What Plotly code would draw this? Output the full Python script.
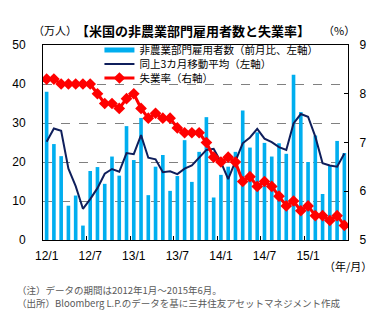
import plotly.graph_objects as go

# Data: Jan 2012 - Jun 2015 (monthly)
payrolls = [38.0, 24.6, 21.5, 8.8, 11.4, 3.7, 17.7, 18.7, 14.4, 21.4, 16.5, 29.2,
            20.5, 31.3, 11.5, 18.8, 21.8, 12.6, 16.4, 25.6, 14.9, 22.6, 31.5, 10.9,
            16.7, 18.8, 22.6, 33.2, 23.7, 27.6, 24.9, 21.4, 24.8, 22.1, 42.4, 32.8,
            20.0, 26.8, 11.8, 19.0, 25.4, 22.3]
moving_avg = [25.2, 28.6, 28.0, 18.3, 13.8, 8.0, 10.5, 13.3, 17.0, 18.2, 17.5, 22.3,
              22.0, 26.9, 21.1, 20.7, 17.4, 17.6, 16.9, 18.3, 19.1, 21.1, 23.1, 23.4,
              20.0, 15.6, 20.1, 24.8, 26.3, 28.5, 26.0, 25.1, 23.8, 23.1, 29.9, 32.3,
              31.6, 26.5, 19.7, 19.1, 18.8, 22.2]
unemployment = [8.3, 8.3, 8.2, 8.2, 8.2, 8.2, 8.2, 8.0, 7.8, 7.8, 7.7, 7.9,
                 8.0, 7.7, 7.5, 7.6, 7.5, 7.5, 7.3, 7.2, 7.2, 7.2, 7.0, 6.7,
                 6.6, 6.7, 6.6, 6.2, 6.3, 6.1, 6.2, 6.1, 5.9, 5.7, 5.8, 5.6,
                 5.7, 5.5, 5.5, 5.4, 5.5, 5.3]
tick_labels = ["12/1", "12/7", "13/1", "13/7", "14/1", "14/7", "15/1"]
tick_step = 6

names = ["非農業部門雇用者数（前月比、左軸）", "同上3カ月移動平均（左軸）", "失業率（右軸）"]

BLUE = "#00AEEF"
NAVY = "#0F1F5C"
RED = "#FF0000"
JP = "Noto Sans CJK JP"
NUM = "Liberation Sans, Arial, sans-serif"

n = len(payrolls)
x = list(range(n))
tick_pos = [i * tick_step for i in range(len(tick_labels))]
boundary_pos = [p - 0.5 for p in tick_pos]

fig = go.Figure()
fig.add_trace(go.Bar(x=x, y=payrolls, marker=dict(color=BLUE, line=dict(width=0)),
                     width=0.5, showlegend=False, yaxis="y"))
fig.add_trace(go.Scatter(x=x, y=moving_avg, mode="lines", line=dict(color=NAVY, width=2),
                         name=names[1], legend="legend2", yaxis="y"))
fig.add_trace(go.Scatter(x=x, y=unemployment, mode="lines+markers",
                         line=dict(color=RED, width=3),
                         marker=dict(symbol="diamond", size=9, color=RED),
                         name=names[2], legend="legend3", yaxis="y2"))
# legend proxy for the bar series
fig.add_trace(go.Scatter(x=[None], y=[None], mode="lines", line=dict(color=BLUE, width=5),
                         name=names[0], legend="legend", yaxis="y"))

def pxx(px):
    return (px - 40) / 308

def pxy(py):
    return (240 - py) / 195

leg_common = dict(bgcolor="rgba(0,0,0,0)", borderwidth=0, xanchor="left", yanchor="middle",
                  font=dict(family=JP, size=10.5, color="#000"), itemwidth=30)

fig.update_layout(
    width=392, height=325,
    margin=dict(l=40, r=44, t=45, b=85),
    paper_bgcolor="white", plot_bgcolor="white",
    bargap=0.5,
    xaxis=dict(range=[-0.5, n - 0.5], tickvals=tick_pos, ticktext=tick_labels,
               ticks="inside", ticklen=0, tickcolor="rgba(0,0,0,0)",
               minor=dict(tickvals=boundary_pos, ticks="inside", ticklen=4, tickcolor="#000", tickwidth=1),
               showline=True, linecolor="#000", linewidth=1, mirror=True,
               showgrid=False, zeroline=False,
               tickfont=dict(family=NUM, size=12, color="#000"), ticklabelstandoff=5),
    yaxis=dict(range=[0, 50], dtick=10, showgrid=True, gridcolor="#808080", griddash="dash",
               gridwidth=1, showline=True, linecolor="#000", linewidth=1, mirror=True,
               zeroline=False, ticks="",
               tickfont=dict(family=NUM, size=12, color="#000"), ticklabelstandoff=14),
    yaxis2=dict(range=[5, 9], dtick=1, overlaying="y", side="right", showgrid=False,
                ticks="inside", ticklen=4, tickcolor="#000", showline=True, linecolor="#000",
                zeroline=False, tickfont=dict(family=NUM, size=12, color="#000"),
                ticklabelstandoff=8),
    legend=dict(x=pxx(97), y=pxy(50), **leg_common),
    legend2=dict(x=pxx(97), y=pxy(64), **leg_common),
    legend3=dict(x=pxx(97), y=pxy(78), **leg_common),
)

annotations = [
    dict(text="（万人）", x=pxx(28), y=pxy(30), xanchor="left", yanchor="middle",
         font=dict(family=JP, size=11, color="#000")),
    dict(text="<b>【米国の非農業部門雇用者数と失業率】</b>", x=pxx(71), y=pxy(30), xanchor="left",
         yanchor="middle", font=dict(family=JP, size=13, color="#000")),
    dict(text="（%）", x=pxx(339), y=pxy(30), xanchor="center", yanchor="middle",
         font=dict(family=JP, size=11, color="#000")),
    dict(text="（年/月）", x=pxx(348), y=pxy(266), xanchor="center", yanchor="middle",
         font=dict(family=JP, size=11, color="#000")),
    dict(text="（注）データの期間は2012年1月～2015年6月。", x=pxx(12), y=pxy(290),
         xanchor="left", yanchor="middle", font=dict(family=JP, size=9.5, color="#595959")),
    dict(text="（出所）Bloomberg L.P.のデータを基に三井住友アセットマネジメント作成", x=pxx(12),
         y=pxy(303), xanchor="left", yanchor="middle", font=dict(family=JP, size=9.5, color="#595959")),
]
for a in annotations:
    a.update(xref="paper", yref="paper", showarrow=False)
fig.update_layout(annotations=annotations)

fig.write_html("out.html")
